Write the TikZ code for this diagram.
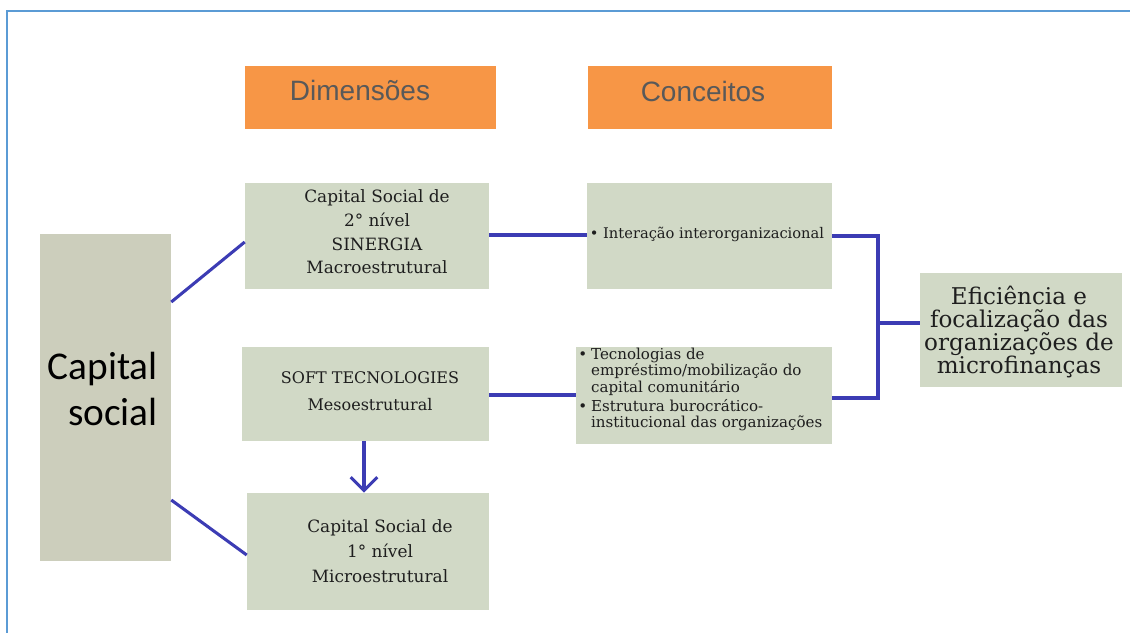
\documentclass[tikz,border=0pt]{standalone}
\usepackage{fontspec}
\setmainfont{DejaVu Serif}
\newfontfamily\calib{Carlito}
\newfontfamily\arialf{Liberation Sans}
\usetikzlibrary{arrows.meta}
\definecolor{frameblue}{HTML}{5B9BD5}
\definecolor{hdrorange}{HTML}{F79646}
\definecolor{boxgreen}{HTML}{D1D9C6}
\definecolor{capgray}{HTML}{CCCEBC}
\definecolor{linkblue}{HTML}{3C3CB4}
\definecolor{hdrtext}{HTML}{595959}
\definecolor{txtdark}{HTML}{1E1E1E}
\tikzset{
  gbox/.style={fill=boxgreen, draw=none, inner sep=0pt},
  hdr/.style={fill=hdrorange, draw=none, inner sep=0pt, minimum width=#1},
  btxt/.style={text=txtdark, align=center, inner sep=0pt},
  link/.style={draw=linkblue, line width=2.3pt},
}
\begin{document}
\begin{tikzpicture}[x=0.75pt, y=-0.75pt]
\useasboundingbox (0,0) rectangle (1130,632);
% frame
\draw[frameblue, line width=2pt] (7,640) -- (7,11) -- (1140,11);

% headers
\node[hdr=188.25pt, minimum height=47.25pt] (dim) at (370.5,97.5) {};
\node[text=hdrtext, inner sep=0pt, font=\arialf\fontsize{21}{25}\selectfont] (dimt) at (360,90) {Dimensões};
\node[hdr=183pt, minimum height=47.25pt] (conc) at (710,97.5) {};
\node[text=hdrtext, inner sep=0pt, font=\arialf\fontsize{21}{25}\selectfont] (conct) at (703,91) {Conceitos};

% capital social
\node[fill=capgray, inner sep=0pt, minimum width=98.25pt, minimum height=245.25pt] (cap) at (105.5,397.5) {};
\node[text=black, align=right, anchor=east, inner sep=0pt, font=\calib\fontsize{29.5}{35}\selectfont] (capt) at (158,389) {Capital\\social};

% dimension boxes
\node[gbox, minimum width=183pt, minimum height=79.5pt] (a) at (367,236) {};
\node[btxt, font=\fontsize{12.7}{17.8}\selectfont] (at) at (377,232) {Capital Social de\\2° nível\\SINERGIA\\Macroestrutural};
\node[gbox, minimum width=185.25pt, minimum height=70.5pt] (b) at (365.5,394) {};
\node[btxt, font=\fontsize{12}{20}\selectfont] (bt) at (370,391) {SOFT TECNOLOGIES\\Mesoestrutural};
\node[gbox, minimum width=181.5pt, minimum height=87.75pt] (c) at (368,551.5) {};
\node[btxt, font=\fontsize{12.7}{18.8}\selectfont] (ct) at (380,551) {Capital Social de\\1° nível\\Microestrutural};

% concept boxes
\node[gbox, minimum width=183.75pt, minimum height=79.5pt] (d) at (709.5,236) {};
\node[btxt, font=\fontsize{11}{13}\selectfont] (dt) at (707,234) {\textbullet\ Interação interorganizacional};
\node[gbox, minimum width=192pt, minimum height=72.75pt] (e) at (704,395.5) {};
\node[btxt, align=left, anchor=west, font=\fontsize{11.3}{11.7}\selectfont] (et) at (578,390) {%
\begin{tabular}{@{}l@{\hspace{3pt}}l@{}}
\textbullet & Tecnologias de\\
 & empréstimo/mobilização do\\
 & capital comunitário\\[1.5pt]
\textbullet & Estrutura burocrático-\\
 & institucional das organizações
\end{tabular}};

% result box
\node[gbox, minimum width=151.5pt, minimum height=85.5pt] (f) at (1021,330) {};
\node[btxt, font=\fontsize{17.3}{17.3}\selectfont] (ft) at (1019,332) {Eficiência e\\focalização das\\organizações de\\microfinanças};

% connectors
\coordinate (j1) at (878,236);
\coordinate (j2) at (878,398);
\coordinate (j3) at (878,323);
\draw[link] (cap.east |- 0,302) -- (a.west |- 0,242);
\draw[link] (cap.east |- 0,500) -- (c.west |- 0,555);
\draw[link] (a.east |- 0,235) -- (d.west |- 0,235);
\draw[link] (b.east |- 0,395) -- (e.west |- 0,395);
\draw[link] (d.east |- j1) -- (j1) -- (j2) -- (e.east |- j2);
\draw[link] (j3) -- (f.west |- j3);
\draw[link, -{Straight Barb[length=10pt, width=20pt, line width=2.3pt]}] (b.south -| 364,0) -- (c.north -| 364,0);
\end{tikzpicture}
\end{document}
